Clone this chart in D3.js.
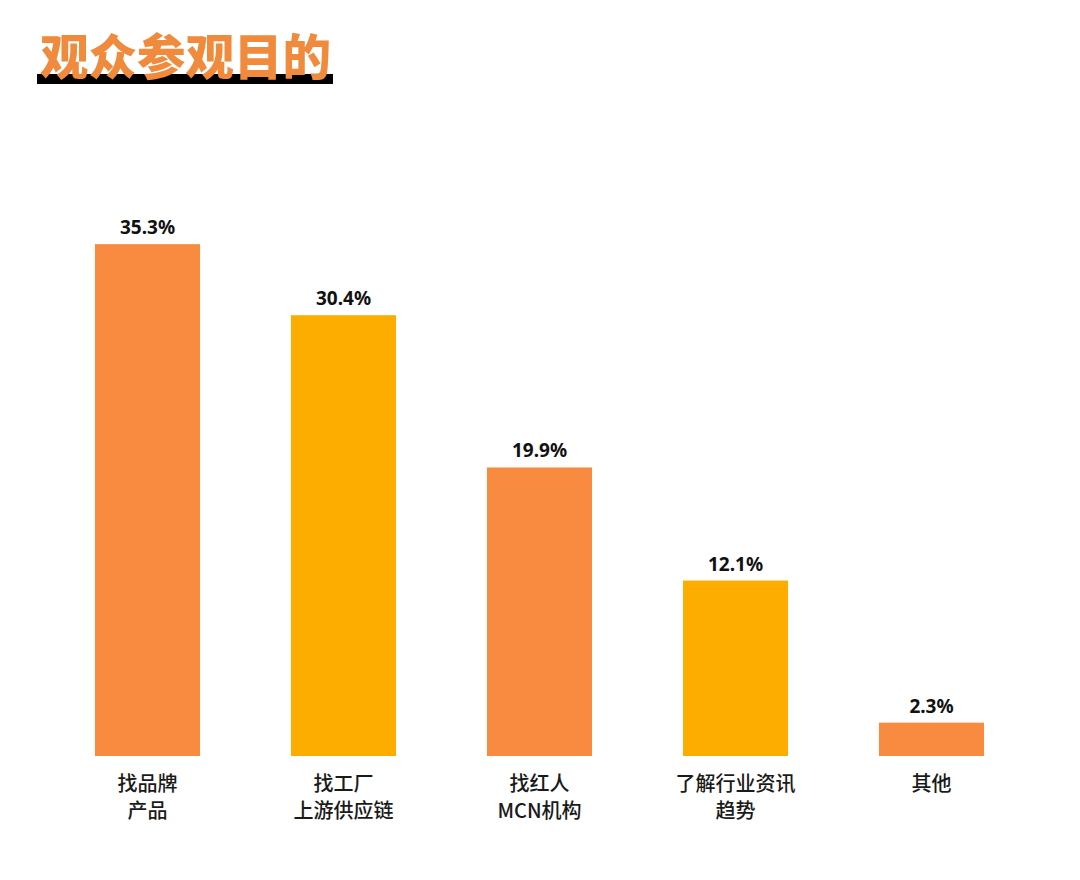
<!DOCTYPE html>
<html><head><meta charset="utf-8">
<script src="https://cdn.jsdelivr.net/npm/d3@7"></script>
<style>body{margin:0;background:#fff;}</style>
</head><body>
<script>
const titleText = "观众参观目的";
const categories = [["找品牌","产品"],["找工厂","上游供应链"],["找红人","MCN机构"],["了解行业资讯","趋势"],["其他"]];
const values = [35.3, 30.4, 19.9, 12.1, 2.3];
const valueLabels = ["35.3%","30.4%","19.9%","12.1%","2.3%"];
const colors = ["#F88B3F","#FCAD00","#F88B3F","#FCAD00","#F88B3F"];

const W = 1080, H = 880;
const svg = d3.select("body").append("svg").attr("width", W).attr("height", H);

// title
svg.append("rect").attr("x", 37).attr("y", 74).attr("width", 296).attr("height", 10).attr("fill", "#000");
svg.append("text").attr("x", 40).attr("y", 75)
  .attr("font-family", "'Noto Sans CJK SC', sans-serif").attr("font-weight", 900)
  .attr("font-size", 48.5).attr("fill", "#F08A3C").text(titleText);

const idx = d3.range(values.length);
const x = d3.scaleBand().domain(idx).range([49.5, 1029.5]).paddingInner(0.464).paddingOuter(0.232);
const y = d3.scaleLinear().domain([0, 36]).range([756, 234]);

svg.selectAll("rect.bar").data(idx).join("rect").attr("class", "bar")
  .attr("x", i => x(i)).attr("width", x.bandwidth())
  .attr("y", i => y(values[i])).attr("height", i => y(0) - y(values[i]))
  .attr("fill", i => colors[i]);

svg.selectAll("text.val").data(idx).join("text").attr("class", "val")
  .attr("x", i => x(i) + x.bandwidth() / 2).attr("y", i => y(values[i]) - 10)
  .attr("text-anchor", "middle").attr("font-family", "'Noto Sans', Lato, sans-serif")
  .attr("font-weight", 700).attr("font-size", 19).attr("fill", "#111")
  .text(i => valueLabels[i]);

const lab = svg.selectAll("text.cat").data(idx).join("text").attr("class", "cat")
  .attr("text-anchor", "middle").attr("font-family", "'Noto Sans CJK SC', sans-serif")
  .attr("font-weight", 500).attr("font-size", 20).attr("fill", "#1a1a1a")
  .attr("transform", i => `translate(${x(i) + x.bandwidth() / 2},791)`);
lab.selectAll("tspan").data(i => categories[i]).join("tspan")
  .attr("x", 0).attr("y", (d, j) => j * 27).text(d => d);
</script>
</body></html>
